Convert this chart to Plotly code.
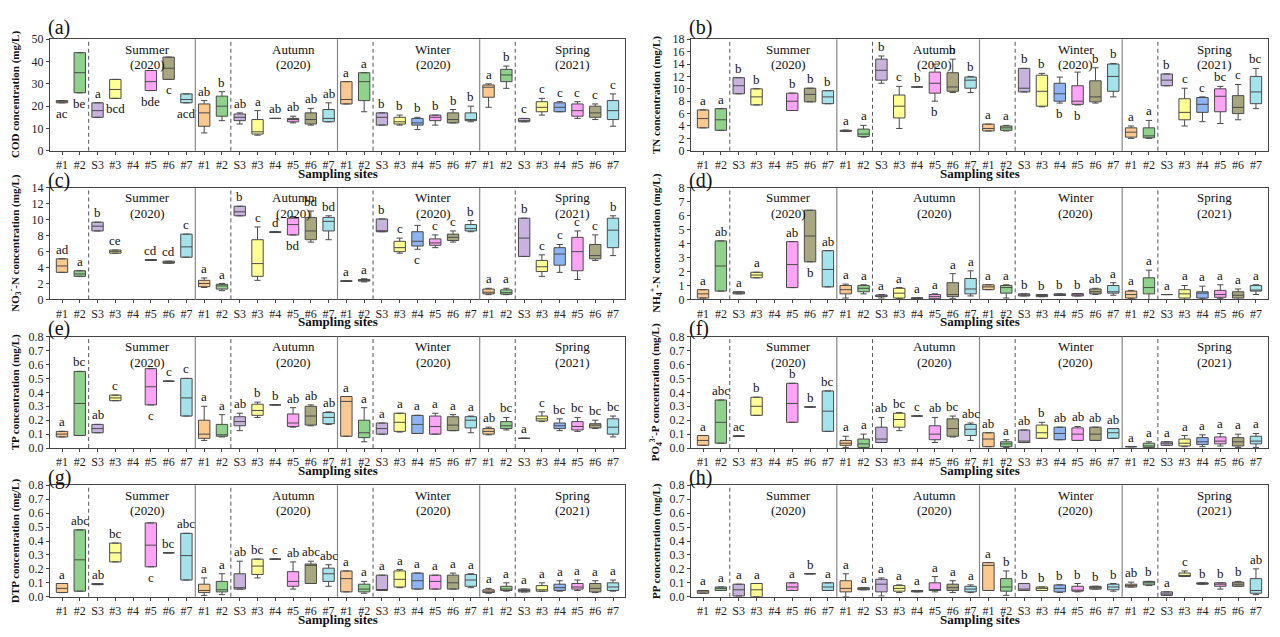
import plotly.graph_objects as go

N = None
SITES = ['#1', '#2', 'S3', '#3', '#4', '#5', '#6', '#7']
SEASONS = ['Summer', 'Autumn', 'Winter', 'Spring']
YEARS = ['(2020)', '(2020)', '(2020)', '(2021)']

# ---------- (a) COD ----------
COD_lo  = [21.5, 26, 15, 23.5, N, 27, 32, 21.5,   8, 13.5, 12, 7, 14.5, 12.5, 11.5, 13,   21, 17.5, 11.5, 11.5, 9.5, 11.5, 12.5, 13,   19.5, 28, 13, 16, 17.5, 14.5, 14, 11]
COD_q1  = [21.5, 26, 15, 23.5, N, 27, 32, 21.5,   11, 15.5, 13.5, 7.5, 14.5, 13, 12, 13,   21, 22.5, 11.5, 12, 11.5, 13.5, 12.5, 13.5,   24, 31, 13, 17.5, 17.5, 15.5, 15, 14]
COD_med = [22, 35, 18, 27.5, N, 31, 37, 23,   17, 20, 15, 8.5, 14.5, 14, 14, 14.5,   23, 31, 15, 13, 12.5, 15, 14, 14,   28.5, 34, 13.5, 19.5, 19.5, 18, 17, 18]
COD_q3  = [22.5, 44, 21.5, 32, N, 36, 42, 25.5,   21, 24.5, 16.5, 14, 14.5, 14.5, 17, 18.5,   31, 35, 17, 15, 14.5, 16, 17, 17,   29.5, 36.5, 14.5, 22, 21.5, 21, 20, 22.5]
COD_hi  = [22.5, 44, 21.5, 32, N, 36, 42, 25.5,   22.5, 26.5, 17, 18, 14.5, 15.5, 19, 21.5,   31, 35, 17, 16, 15, 16, 18.5, 20,   30, 38, 14.5, 23.5, 22, 22, 21, 25.5]
COD_let = ['ac', 'be', 'a', 'bcd', '', 'bde', 'c', 'acd',  'ab', 'b', 'ab', 'a', 'ab', 'ab', 'ab', 'ab',
           'a', 'a', 'b', 'b', 'b', 'b', 'b', 'b',  'a', 'b', 'c', 'c', 'c', 'c', 'c', 'c']
COD_below = [0, 1, 3, 5, 6, 7]

# ---------- (b) TN ----------
TN_lo  = [3.7, 3.3, 9.2, 7.4, N, 6.5, 7.9, 7.6,   3.1, 2.2, 10.9, 3.6, 10.3, 8.0, 9.4, 9.4,   3.2, 3.2, 9.5, 7.1, 7.7, 7.4, 7.7, 8.7,   2.0, 2.0, 10.5, 4.0, 4.7, 4.4, 5.0, 6.8]
TN_q1  = [3.7, 3.3, 9.2, 7.4, N, 6.5, 7.9, 7.6,   3.15, 2.3, 11.4, 5.3, 10.3, 9.3, 9.6, 10.1,   3.2, 3.3, 9.5, 7.2, 8.0, 7.5, 7.9, 9.6,   2.2, 2.1, 10.5, 5.0, 6.2, 6.3, 6.0, 7.6]
TN_med = [5.2, 5.0, 10.5, 8.7, N, 8.0, 9.1, 8.7,   3.2, 2.7, 13.0, 7.2, 10.3, 10.9, 10.3, 11.4,   3.6, 3.7, 10.1, 9.6, 9.2, 8.0, 8.7, 12.0,   3.0, 2.4, 11.4, 6.2, 7.5, 8.8, 7.0, 9.5]
TN_q3  = [6.6, 6.8, 11.8, 10.0, N, 9.3, 10.1, 9.7,   3.3, 3.5, 14.8, 9.0, 10.3, 12.7, 12.6, 11.9,   4.3, 4.0, 13.3, 12.2, 10.9, 10.5, 11.3, 14.0,   3.7, 3.7, 12.4, 8.4, 8.6, 10.0, 8.9, 12.0]
TN_hi  = [6.6, 6.8, 11.8, 10.0, N, 9.3, 10.1, 9.7,   3.35, 4.1, 15.3, 10.4, 10.3, 14.0, 14.8, 12.0,   4.3, 4.1, 13.3, 12.5, 11.9, 12.7, 13.4, 14.1,   4.0, 4.9, 12.4, 10.1, 8.7, 10.4, 10.7, 13.3]
TN_let = ['a', 'a', 'b', 'b', '', 'b', 'b', 'b',  'a', 'a', 'b', 'c', 'b', 'b', 'b', 'b',
          'a', 'a', 'b', 'b', 'b', 'b', 'b', 'b',  'a', 'a', 'b', 'c', 'c', 'bc', 'c', 'bc']
TN_below = [13, 20, 21]

# ---------- (c) NO3-N ----------
NO3_lo  = [3.4, 2.9, 8.6, 5.8, N, 4.9, 4.55, 5.3,   1.5, 1.1, 10.5, 2.4, 8.4, 8.1, 7.2, 7.5,   2.25, 2.2, 8.5, 5.8, 6.3, 6.5, 7.2, 8.5,   0.6, 0.6, 5.4, 2.9, 3.4, 2.5, 4.9, 5.5]
NO3_q1  = [3.4, 2.9, 8.6, 5.8, N, 4.9, 4.55, 5.3,   1.6, 1.3, 10.5, 2.9, 8.4, 8.1, 7.5, 8.6,   2.25, 2.3, 8.5, 6.0, 6.7, 6.8, 7.4, 8.6,   0.7, 0.65, 5.4, 3.5, 4.3, 3.6, 5.1, 6.5]
NO3_med = [4.2, 3.2, 9.2, 6.0, N, 4.95, 4.65, 6.6,   2.0, 1.7, 11.0, 4.5, 8.45, 9.4, 8.6, 9.8,   2.3, 2.4, 8.6, 6.5, 7.3, 7.1, 7.8, 8.9,   0.9, 0.85, 7.7, 4.1, 5.7, 6.0, 5.5, 8.7]
NO3_q3  = [5.1, 3.6, 9.7, 6.2, N, 5.0, 4.8, 8.2,   2.4, 1.9, 11.7, 7.5, 8.5, 10.2, 10.3, 10.3,   2.35, 2.5, 10.1, 7.3, 8.5, 7.6, 8.2, 9.4,   1.3, 1.2, 10.2, 4.9, 6.5, 7.8, 6.9, 10.2]
NO3_hi  = [5.1, 3.6, 9.7, 6.2, N, 5.0, 4.8, 8.2,   2.7, 2.0, 11.7, 9.1, 8.5, 10.4, 11.1, 10.5,   2.35, 2.6, 10.1, 7.7, 9.3, 8.1, 8.6, 9.9,   1.4, 1.4, 10.2, 5.6, 6.9, 8.6, 8.1, 10.5]
NO3_let = ['ad', 'a', 'b', 'ce', '', 'cd', 'cd', 'c',  'a', 'a', 'b', 'c', 'd', 'bd', 'bd', 'bd',
           'a', 'a', 'b', 'c', 'c', 'c', 'c', 'b',  'a', 'a', 'b', 'c', 'c', 'c', 'c', 'b']
NO3_below = [13, 20]

# ---------- (d) NH4-N ----------
NH4_lo  = [0.1, 0.6, 0.4, 1.55, N, 0.85, 2.7, 0.9,   0.1, 0.4, 0.1, 0.05, 0.05, 0.0, 0.05, 0.25,   0.7, 0.1, 0.25, 0.2, 0.28, 0.25, 0.35, 0.3,   0.05, 0.0, 0.35, 0.0, 0.05, 0.05, 0.0, 0.35]
NH4_q1  = [0.1, 0.6, 0.4, 1.55, N, 0.85, 2.7, 0.9,   0.4, 0.55, 0.2, 0.1, 0.05, 0.05, 0.2, 0.4,   0.7, 0.45, 0.25, 0.2, 0.28, 0.25, 0.4, 0.45,   0.1, 0.4, 0.35, 0.1, 0.1, 0.15, 0.1, 0.6]
NH4_med = [0.4, 2.4, 0.45, 1.75, N, 2.5, 4.55, 2.15,   0.7, 0.8, 0.25, 0.45, 0.1, 0.2, 0.35, 0.75,   0.9, 0.85, 0.32, 0.3, 0.33, 0.33, 0.55, 0.55,   0.35, 0.85, 0.35, 0.4, 0.45, 0.35, 0.3, 0.65]
NH4_q3  = [0.7, 4.2, 0.55, 1.95, N, 4.15, 6.4, 3.5,   1.0, 1.0, 0.32, 0.8, 0.12, 0.35, 1.2, 1.5,   1.05, 1.0, 0.4, 0.35, 0.4, 0.42, 0.75, 1.0,   0.6, 1.55, 0.35, 0.7, 0.55, 0.65, 0.55, 1.0]
NH4_hi  = [0.7, 4.2, 0.55, 1.95, N, 4.15, 6.4, 3.5,   1.1, 1.05, 0.35, 0.85, 0.12, 0.4, 1.85, 2.05,   1.05, 1.05, 0.4, 0.35, 0.4, 0.42, 0.8, 1.2,   0.65, 2.1, 0.35, 1.0, 0.95, 1.05, 0.75, 1.05]
NH4_let = ['a', 'ab', 'a', 'a', '', 'ab', 'b', 'ab',  'a', 'a', 'a', 'a', 'a', 'a', 'a', 'a',
           'a', 'a', 'b', 'b', 'b', 'b', 'ab', 'a',  'a', 'a', 'a', 'a', 'a', 'a', 'a', 'a']
NH4_below = [6]

# ---------- (e) TP ----------
TP_lo  = [0.08, 0.09, 0.11, 0.34, N, 0.31, 0.48, 0.23,   0.055, 0.08, 0.125, 0.22, 0.31, 0.15, 0.16, 0.17,   0.085, 0.045, 0.1, 0.115, 0.105, 0.1, 0.125, 0.11,   0.095, 0.13, 0.07, 0.19, 0.125, 0.12, 0.14, 0.08]
TP_q1  = [0.08, 0.09, 0.11, 0.34, N, 0.31, 0.48, 0.23,   0.07, 0.085, 0.16, 0.235, 0.31, 0.155, 0.165, 0.175,   0.085, 0.075, 0.1, 0.12, 0.105, 0.1, 0.125, 0.145,   0.1, 0.14, 0.07, 0.195, 0.14, 0.13, 0.145, 0.1]
TP_med = [0.1, 0.32, 0.14, 0.36, N, 0.44, 0.48, 0.36,   0.1, 0.095, 0.19, 0.27, 0.31, 0.18, 0.23, 0.22,   0.335, 0.11, 0.14, 0.185, 0.17, 0.155, 0.165, 0.2,   0.12, 0.16, 0.07, 0.21, 0.16, 0.155, 0.165, 0.15]
TP_q3  = [0.12, 0.55, 0.17, 0.38, N, 0.57, 0.48, 0.5,   0.2, 0.17, 0.225, 0.315, 0.31, 0.245, 0.3, 0.255,   0.37, 0.2, 0.18, 0.25, 0.235, 0.23, 0.225, 0.225,   0.14, 0.19, 0.07, 0.23, 0.18, 0.19, 0.175, 0.21]
TP_hi  = [0.12, 0.55, 0.17, 0.38, N, 0.57, 0.48, 0.5,   0.3, 0.24, 0.25, 0.33, 0.31, 0.29, 0.31, 0.26,   0.37, 0.29, 0.18, 0.25, 0.235, 0.25, 0.24, 0.23,   0.15, 0.22, 0.07, 0.26, 0.21, 0.22, 0.2, 0.23]
TP_let = ['a', 'bc', 'ab', 'c', '', 'c', 'c', 'c',  'a', 'a', 'ab', 'b', 'b', 'ab', 'ab', 'ab',
          'a', 'a', 'a', 'a', 'a', 'a', 'a', 'a',  'ab', 'bc', 'a', 'c', 'bc', 'bc', 'bc', 'bc']
TP_below = [5]

# ---------- (f) PO4-P ----------
PO4_lo  = [0.02, 0.035, 0.083, 0.235, N, 0.185, 0.295, 0.12,   0.005, 0.0, 0.04, 0.125, 0.23, 0.04, 0.08, 0.055,   0.01, 0.005, 0.04, 0.07, 0.06, 0.055, 0.055, 0.07,   0.01, 0.0, 0.02, 0.01, 0.01, 0.015, 0.005, 0.005]
PO4_q1  = [0.02, 0.035, 0.083, 0.235, N, 0.185, 0.295, 0.12,   0.02, 0.005, 0.04, 0.15, 0.23, 0.06, 0.085, 0.09,   0.01, 0.01, 0.04, 0.07, 0.06, 0.055, 0.055, 0.07,   0.01, 0.005, 0.02, 0.015, 0.025, 0.03, 0.015, 0.03]
PO4_med = [0.055, 0.185, 0.085, 0.3, N, 0.32, 0.295, 0.265,   0.035, 0.03, 0.065, 0.205, 0.23, 0.1, 0.14, 0.135,   0.065, 0.03, 0.05, 0.11, 0.105, 0.1, 0.1, 0.11,   0.01, 0.015, 0.035, 0.035, 0.045, 0.05, 0.045, 0.05]
PO4_q3  = [0.09, 0.345, 0.088, 0.365, N, 0.465, 0.295, 0.41,   0.055, 0.065, 0.15, 0.25, 0.23, 0.16, 0.21, 0.17,   0.11, 0.045, 0.13, 0.165, 0.15, 0.145, 0.15, 0.14,   0.01, 0.035, 0.045, 0.065, 0.075, 0.08, 0.075, 0.085]
PO4_hi  = [0.09, 0.345, 0.088, 0.365, N, 0.465, 0.295, 0.41,   0.085, 0.1, 0.22, 0.255, 0.23, 0.22, 0.23, 0.18,   0.11, 0.06, 0.13, 0.185, 0.15, 0.155, 0.15, 0.14,   0.01, 0.045, 0.045, 0.09, 0.095, 0.105, 0.1, 0.105]
PO4_let = ['a', 'abc', 'ac', 'b', '', 'b', 'b', 'bc',  'a', 'a', 'ab', 'bc', 'c', 'ab', 'bc', 'abc',
           'ab', 'a', 'ab', 'b', 'ab', 'ab', 'ab', 'ab',  'a', 'a', 'a', 'a', 'a', 'a', 'a', 'a']
PO4_below = []

# ---------- (g) DTP ----------
DTP_lo  = [0.03, 0.04, 0.087, 0.25, N, 0.215, 0.315, 0.12,   0.01, 0.015, 0.055, 0.135, 0.27, 0.055, 0.095, 0.075,   0.035, 0.025, 0.045, 0.065, 0.055, 0.055, 0.055, 0.065,   0.025, 0.04, 0.035, 0.04, 0.04, 0.045, 0.03, 0.04]
DTP_q1  = [0.03, 0.04, 0.087, 0.25, N, 0.215, 0.315, 0.12,   0.03, 0.035, 0.055, 0.16, 0.27, 0.075, 0.095, 0.11,   0.035, 0.035, 0.045, 0.07, 0.055, 0.055, 0.055, 0.075,   0.03, 0.045, 0.035, 0.04, 0.045, 0.055, 0.035, 0.045]
DTP_med = [0.06, 0.265, 0.09, 0.315, N, 0.37, 0.315, 0.295,   0.045, 0.05, 0.065, 0.22, 0.27, 0.11, 0.225, 0.165,   0.13, 0.055, 0.05, 0.125, 0.115, 0.11, 0.1, 0.12,   0.04, 0.055, 0.045, 0.05, 0.065, 0.07, 0.06, 0.07]
DTP_q3  = [0.095, 0.48, 0.094, 0.385, N, 0.53, 0.315, 0.455,   0.09, 0.11, 0.165, 0.27, 0.27, 0.18, 0.235, 0.205,   0.185, 0.09, 0.155, 0.185, 0.17, 0.155, 0.155, 0.16,   0.05, 0.075, 0.055, 0.08, 0.09, 0.095, 0.095, 0.1]
DTP_hi  = [0.095, 0.48, 0.094, 0.385, N, 0.53, 0.315, 0.455,   0.135, 0.165, 0.255, 0.27, 0.27, 0.25, 0.255, 0.23,   0.185, 0.11, 0.155, 0.195, 0.17, 0.155, 0.17, 0.165,   0.06, 0.1, 0.055, 0.1, 0.115, 0.12, 0.115, 0.12]
DTP_let = ['a', 'abc', 'ab', 'bc', '', 'c', 'bc', 'abc',  'a', 'a', 'ab', 'bc', 'c', 'ab', 'abc', 'abc',
           'a', 'a', 'a', 'a', 'a', 'a', 'a', 'a',  'a', 'a', 'a', 'a', 'a', 'a', 'a', 'a']
DTP_below = [5]

# ---------- (h) PP ----------
PP_lo  = [0.025, 0.045, 0.005, 0.0, N, 0.045, 0.165, 0.045,   0.0, 0.05, 0.005, 0.03, 0.035, 0.035, 0.03, 0.03,   0.045, 0.01, 0.045, 0.045, 0.03, 0.035, 0.055, 0.04,   0.07, 0.08, 0.01, 0.145, 0.09, 0.055, 0.075, 0.015]
PP_q1  = [0.025, 0.045, 0.005, 0.0, N, 0.045, 0.165, 0.045,   0.035, 0.05, 0.035, 0.04, 0.035, 0.045, 0.045, 0.035,   0.045, 0.04, 0.045, 0.045, 0.035, 0.04, 0.055, 0.05,   0.07, 0.085, 0.01, 0.145, 0.09, 0.075, 0.075, 0.025]
PP_med = [0.035, 0.06, 0.05, 0.05, N, 0.07, 0.165, 0.07,   0.06, 0.06, 0.09, 0.06, 0.04, 0.05, 0.065, 0.055,   0.225, 0.07, 0.055, 0.06, 0.06, 0.045, 0.065, 0.07,   0.08, 0.1, 0.02, 0.15, 0.095, 0.09, 0.09, 0.045]
PP_q3  = [0.045, 0.07, 0.09, 0.095, N, 0.1, 0.165, 0.1,   0.115, 0.065, 0.125, 0.08, 0.045, 0.1, 0.09, 0.075,   0.245, 0.13, 0.095, 0.07, 0.085, 0.075, 0.075, 0.09,   0.09, 0.11, 0.035, 0.17, 0.1, 0.1, 0.105, 0.13]
PP_hi  = [0.045, 0.07, 0.09, 0.095, N, 0.1, 0.165, 0.1,   0.165, 0.065, 0.135, 0.085, 0.045, 0.145, 0.115, 0.085,   0.245, 0.185, 0.095, 0.07, 0.085, 0.095, 0.075, 0.095,   0.105, 0.11, 0.035, 0.185, 0.1, 0.1, 0.11, 0.2]
PP_let = ['a', 'a', 'a', 'a', '', 'a', 'b', 'a',  'a', 'a', 'a', 'a', 'a', 'a', 'a', 'a',
          'a', 'b', 'b', 'b', 'b', 'b', 'b', 'b',  'ab', 'b', 'a', 'c', 'b', 'b', 'b', 'ab']
PP_below = []

# ---------------- styling ----------------
FILL = ['#FBC890', '#8FD28B', '#C8B3DF', '#FFFF94', '#8DB4F3', '#FFA3F6', '#A9A77F', '#A4E2EC']
LINE = '#4a4a4a'
SERIF = 'Liberation Serif'

W, H = 1280, 637
COLS = [(50, 625), (691, 1268)]
ROWS = [(33, 147), (185, 299), (337, 451), (489, 603)]

panels = [
    ('(a)', '<b>COD concentration (mg/L)</b>', 50, 10, '', COD_lo, COD_q1, COD_med, COD_q3, COD_hi, COD_let, COD_below),
    ('(b)', '<b>TN concentration (mg/L)</b>', 18, 2, '', TN_lo, TN_q1, TN_med, TN_q3, TN_hi, TN_let, TN_below),
    ('(c)', '<b>NO<sub>3</sub><sup>-</sup>-N concentration (mg/L)</b>', 14, 2, '', NO3_lo, NO3_q1, NO3_med, NO3_q3, NO3_hi, NO3_let, NO3_below),
    ('(d)', '<b>NH<sub>4</sub><sup>+</sup>-N concentration (mg/L)</b>', 8, 1, '', NH4_lo, NH4_q1, NH4_med, NH4_q3, NH4_hi, NH4_let, NH4_below),
    ('(e)', '<b>TP concentration (mg/L)</b>', 0.8, 0.1, '.1f', TP_lo, TP_q1, TP_med, TP_q3, TP_hi, TP_let, TP_below),
    ('(f)', '<b>PO<sub>4</sub><sup>3-</sup>-P concentration (mg/L)</b>', 0.8, 0.1, '.1f', PO4_lo, PO4_q1, PO4_med, PO4_q3, PO4_hi, PO4_let, PO4_below),
    ('(g)', '<b>DTP concentration (mg/L)</b>', 0.8, 0.1, '.1f', DTP_lo, DTP_q1, DTP_med, DTP_q3, DTP_hi, DTP_let, DTP_below),
    ('(h)', '<b>PP concentration (mg/L)</b>', 0.8, 0.1, '.1f', PP_lo, PP_q1, PP_med, PP_q3, PP_hi, PP_let, PP_below),
]

fig = go.Figure()
layout = dict(width=W, height=H, margin=dict(l=0, r=0, t=0, b=0),
              paper_bgcolor='white', plot_bgcolor='white', showlegend=False,
              font=dict(family=SERIF, color='#111'), boxmode='overlay')
annotations = []
shapes = []
SEASON_X = [4.8, 13.0, 20.9, 28.7]

for p, (lab, ytitle, ymax, dtick, tfmt, lo, q1, med, q3, hi, let, below) in enumerate(panels):
    n = p + 1
    col = COLS[p % 2]
    row = ROWS[p // 2]
    xs = '' if n == 1 else str(n)
    xref, yref = 'x' + xs, 'y' + xs
    xdom = [col[0] / W, col[1] / W]
    ydom = [1 - row[1] / H, 1 - row[0] / H]
    layout['xaxis' + xs] = dict(domain=xdom, anchor=yref, range=[-0.675, 31.675],
                                tickvals=list(range(32)), ticktext=SITES * 4,
                                ticks='outside', ticklen=3, tickcolor='#444',
                                showline=True, mirror=True, linecolor='#444', linewidth=1,
                                showgrid=False, zeroline=False,
                                tickfont=dict(family=SERIF, size=12, color='#222'))
    layout['yaxis' + xs] = dict(domain=ydom, anchor=xref, range=[0, ymax], dtick=dtick,
                                tickformat=tfmt, ticks='outside', ticklen=3, tickcolor='#444',
                                showline=True, mirror=True, linecolor='#444', linewidth=1,
                                showgrid=False, zeroline=False,
                                tickfont=dict(family=SERIF, size=12, color='#222'))
    # boxes, one trace per site
    for s in range(8):
        idx = [k * 8 + s for k in range(4) if med[k * 8 + s] is not None]
        if not idx:
            continue
        fig.add_trace(go.Box(
            x=idx, q1=[q1[i] for i in idx], median=[med[i] for i in idx],
            q3=[q3[i] for i in idx], lowerfence=[lo[i] for i in idx],
            upperfence=[hi[i] for i in idx], orientation='v',
            xaxis=xref, yaxis=yref, width=0.64, whiskerwidth=0.55,
            fillcolor=FILL[s], line=dict(color=LINE, width=1),
            boxpoints=False, hoverinfo='skip', showlegend=False))
    # significance letters
    for i, t in enumerate(let):
        if not t or med[i] is None:
            continue
        if i in below:
            annotations.append(dict(x=i, y=lo[i], xref=xref, yref=yref, text=t, showarrow=False,
                                    yanchor='top', yshift=-1,
                                    font=dict(family=SERIF, size=13, color='#111')))
        else:
            annotations.append(dict(x=i, y=hi[i], xref=xref, yref=yref, text=t, showarrow=False,
                                    yanchor='bottom', yshift=0,
                                    font=dict(family=SERIF, size=13, color='#111')))
    # season separators and labels
    for k in range(4):
        if k > 0:
            shapes.append(dict(type='line', xref=xref, yref=yref + ' domain', x0=8 * k - 0.5, x1=8 * k - 0.5,
                               y0=0, y1=1, line=dict(color='#888', width=1.2)))
        shapes.append(dict(type='line', xref=xref, yref=yref + ' domain', x0=8 * k + 1.5, x1=8 * k + 1.5,
                           y0=0, y1=1, line=dict(color='#555', width=1, dash='4px,3px')))
        annotations.append(dict(x=SEASON_X[k], y=1 - 10 / 114, xref=xref, yref=yref + ' domain',
                                text=SEASONS[k], showarrow=False, yanchor='middle',
                                font=dict(family=SERIF, size=13, color='#111')))
        annotations.append(dict(x=SEASON_X[k], y=1 - 26 / 114, xref=xref, yref=yref + ' domain',
                                text=YEARS[k], showarrow=False, yanchor='middle',
                                font=dict(family=SERIF, size=13, color='#111')))
    # panel label
    lab_y = row[0] - (12 if p < 2 else 8)
    annotations.append(dict(x=(col[0] - 4) / W, y=1 - lab_y / H, xref='paper', yref='paper',
                            text=lab, showarrow=False, xanchor='left', yanchor='middle',
                            font=dict(family=SERIF, size=20, color='#111')))
    # y title
    annotations.append(dict(x=(col[0] - 35) / W, y=(ydom[0] + ydom[1]) / 2, xref='paper', yref='paper',
                            text=ytitle, showarrow=False, textangle=-90, xanchor='center', yanchor='middle',
                            font=dict(family=SERIF, size=11, color='#111')))
    # x title
    annotations.append(dict(x=(col[0] + col[1]) / 2 / W, y=1 - (row[1] + 23) / H, xref='paper', yref='paper',
                            text='<b>Sampling sites</b>', showarrow=False, xanchor='center', yanchor='middle',
                            font=dict(family=SERIF, size=13, color='#111')))

layout['annotations'] = annotations
layout['shapes'] = shapes
fig.update_layout(**layout)
fig.write_html('out.html')
